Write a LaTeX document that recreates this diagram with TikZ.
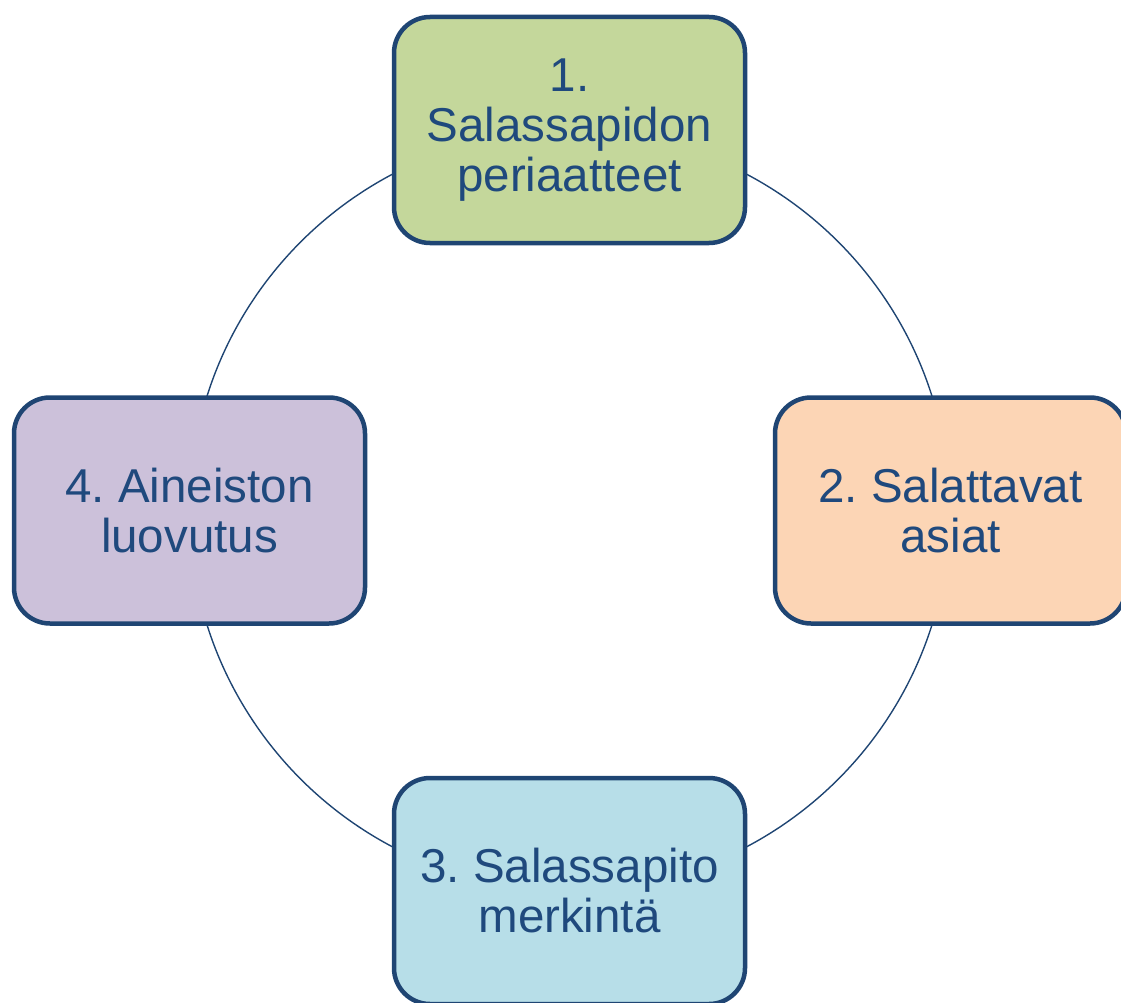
\documentclass[tikz,border=0pt]{standalone}
\usepackage{fontspec}
\setmainfont{Liberation Sans}
\frenchspacing
\definecolor{edgeblue}{HTML}{1F4573}
\definecolor{txtblue}{HTML}{1F497D}
\definecolor{fgreen}{HTML}{C4D79B}
\definecolor{forange}{HTML}{FCD5B5}
\definecolor{fblue}{HTML}{B7DEE8}
\definecolor{fviolet}{HTML}{CCC1DA}
\begin{document}
\begin{tikzpicture}[x=1pt,y=-1pt,
  stage/.style={draw=edgeblue, line width=4.5pt, rounded corners=36pt,
    minimum width=351pt, minimum height=226pt, inner sep=0pt,
    align=center, text=txtblue,
    font=\fontsize{47.5pt}{50pt}\selectfont}]
\useasboundingbox (0,0) rectangle (1121,1003);
\node[circle, minimum size=760pt, inner sep=0pt] (ring) at (569.5,510.5) {};
\draw[edgeblue, line width=1.4pt] (ring.center) circle[radius=380pt];
\node[stage, fill=fgreen] (s1) at (569.5,130) {1.\\Salassapidon\\periaatteet};
\node[stage, fill=forange] (s2) at (950.5,510.5) {2. Salattavat\\asiat};
\node[stage, fill=fblue] (s3) at (569.5,891) {3. Salassapito\\merkintä};
\node[stage, fill=fviolet] (s4) at (189.5,510.5) {4. Aineiston\\luovutus};
\end{tikzpicture}
\end{document}
